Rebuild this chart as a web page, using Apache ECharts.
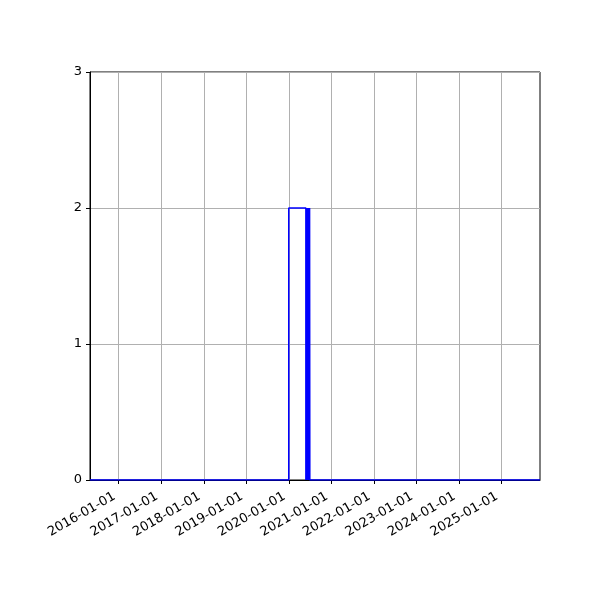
<!DOCTYPE html>
<html><head><meta charset="utf-8">
<script src="https://cdn.jsdelivr.net/npm/echarts@6/dist/echarts.min.js"></script>
<style>html,body{margin:0;padding:0;background:#fff}#c{width:600px;height:600px}</style>
</head><body><div id="c"></div>
<script>
const xRange = ['2015-04-29', '2025-11-29'];
const tickDates = ['2016-01-01','2017-01-01','2018-01-01','2019-01-01','2020-01-01','2021-01-01','2022-01-01','2023-01-01','2024-01-01','2025-01-01'];
const yTicks = [0, 1, 2, 3];
// step outline: dates and counts
const stepDates = ['2015-04-29','2020-01-01','2020-01-01','2020-05-27','2020-05-27',
  '2020-05-30','2020-05-30','2020-06-02','2020-06-02','2020-06-05','2020-06-05','2020-06-08','2020-06-08',
  '2020-06-11','2020-06-11','2020-06-14','2020-06-14','2020-06-17','2020-06-17','2020-06-20','2020-06-20',
  '2020-06-23','2020-06-23','2020-06-26','2020-06-26','2020-06-28','2020-06-28','2020-06-30','2020-06-30',
  '2025-11-29'];
const stepValues = [0,0,2,2,0,
  0,2,2,0,0,2,2,0,
  0,2,2,0,0,2,2,0,
  0,2,2,0,0,2,2,0,
  0];

const ts = d => Date.parse(d + 'T00:00:00Z');
const tickTs = tickDates.map(ts);
const pad = n => (n < 10 ? '0' : '') + n;
const fmt = v => { const d = new Date(v); return d.getUTCFullYear() + '-' + pad(d.getUTCMonth() + 1) + '-' + pad(d.getUTCDate()); };

const chart = echarts.init(document.getElementById('c'), null, { renderer: 'canvas' });
chart.setOption({
  animation: false,
  backgroundColor: '#fff',
  grid: { left: 90, right: 60, top: 72, bottom: 120, show: true, borderColor: '#000', borderWidth: 1, backgroundColor: 'transparent' },
  xAxis: {
    type: 'value',
    min: ts(xRange[0]), max: ts(xRange[1]),
    axisLine: { show: true, lineStyle: { color: '#000', width: 1 } },
    axisTick: { show: true, customValues: tickTs, length: 4, lineStyle: { color: '#000' } },
    axisLabel: { customValues: tickTs, rotate: 30, formatter: v => fmt(v), color: '#000', fontSize: 13, fontFamily: 'DejaVu Sans', margin: 13, padding: [0, 5, 0, 0] },
    splitLine: { show: true, lineStyle: { color: '#b0b0b0', width: 1 } }
  },
  yAxis: {
    type: 'value', min: 0, max: 3, interval: 1,
    axisLine: { show: true, lineStyle: { color: '#000', width: 1 } },
    axisTick: { show: true, length: 4, lineStyle: { color: '#000' } },
    axisLabel: { color: '#000', fontSize: 13, fontFamily: 'DejaVu Sans', margin: 8, formatter: v => yTicks.includes(v) ? String(v) : '' },
    splitLine: { show: true, lineStyle: { color: '#b0b0b0', width: 1 } }
  },
  series: [{
    type: 'line',
    data: stepDates.map((d, i) => [ts(d), stepValues[i]]),
    showSymbol: false,
    lineStyle: { color: '#0000ff', width: 1.5 },
    clip: true
  }]
});
</script></body></html>
